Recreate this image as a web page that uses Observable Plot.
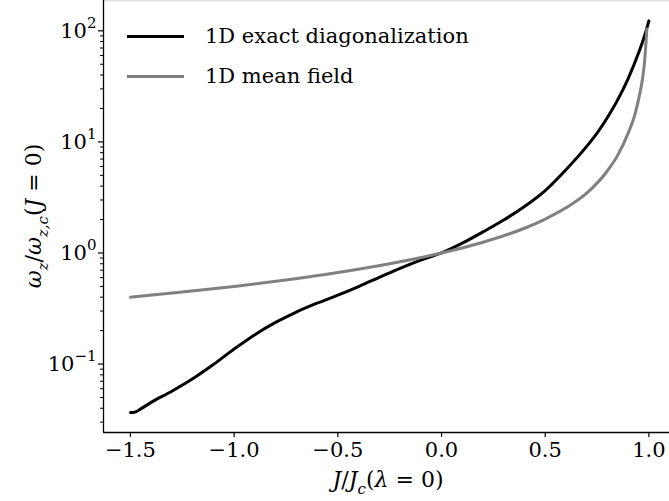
<!DOCTYPE html>
<html><head><meta charset="utf-8">
<script src="https://cdn.jsdelivr.net/npm/d3@7"></script>
<script src="https://cdn.jsdelivr.net/npm/@observablehq/plot@0.6"></script>
<style>
body{margin:0;background:#fff;}
#wrap{position:relative;width:669px;height:501px;font-family:"DejaVu Serif",serif;overflow:hidden;}
#wrap svg{position:absolute;left:0;top:0;}
#legend{position:absolute;left:127px;top:16px;}
.row{display:flex;align-items:center;height:40px;font-size:21px;color:#000;white-space:nowrap;}
.sw{width:57px;height:0;border-top:3px solid;margin-right:21px;}
</style></head><body><div id="wrap"><div id="legend"></div></div>
<script>
// Data
const seriesNames = ["1D exact diagonalization", "1D mean field"];
const seriesColors = ["#000000", "#808080"];

const exactJ = [-1.5, -1.48, -1.45, -1.4, -1.3, -1.2, -1.1, -1.0, -0.9, -0.8, -0.7, -0.6, -0.5, -0.4, -0.3, -0.2, -0.1, 0.0, 0.1, 0.2, 0.3, 0.4, 0.5, 0.6, 0.7, 0.75, 0.8, 0.85, 0.9, 0.95, 0.98, 1.0];
const exactW = [0.0366, 0.0368, 0.0395, 0.0452, 0.0569, 0.0736, 0.0989, 0.1365, 0.184, 0.237, 0.294, 0.353, 0.417, 0.499, 0.603, 0.728, 0.863, 1.0, 1.225, 1.55, 1.98, 2.62, 3.65, 5.62, 9.12, 12.0, 16.6, 24.0, 37.2, 63.1, 91.2, 123];

const mfJ = [-1.5, -1.25, -1.0, -0.75, -0.5, -0.25, 0.0, 0.2, 0.4, 0.5, 0.6, 0.7, 0.8, 0.85, 0.9, 0.93, 0.95, 0.97, 0.98, 0.99];
const mfW = [0.40, 0.445, 0.50, 0.572, 0.667, 0.80, 1.0, 1.25, 1.67, 2.02, 2.55, 3.45, 5.5, 7.6, 12, 17, 24, 38, 55, 104];

const xTicks = [-1.5, -1.0, -0.5, 0.0, 0.5, 1.0];
const yTicks = [0.1, 1, 10, 100];
const yMinor = [0.03, 0.04, 0.05, 0.06, 0.07, 0.08, 0.09, 0.2, 0.3, 0.4, 0.5, 0.6, 0.7, 0.8, 0.9, 2, 3, 4, 5, 6, 7, 8, 9, 20, 30, 40, 50, 60, 70, 80, 90];

const exact = exactJ.map((j, i) => ({J: j, w: exactW[i]}));
const mf = mfJ.map((j, i) => ({J: j, w: mfW[i]}));

const xDomain = [-1.6297, 1.0993];
const yDomain = [0.0242, 187.5];
const FS = 21;

const chart = Plot.plot({
  width: 669, height: 501,
  marginLeft: 103, marginRight: 0, marginTop: 0, marginBottom: 69,
  style: {fontFamily: '"DejaVu Serif", serif', fontSize: FS + "px", background: "transparent", color: "#000"},
  x: {domain: xDomain},
  y: {type: "log", domain: yDomain},
  marks: [
    Plot.ruleY([yDomain[1]], {stroke: "#dcdcdc", strokeWidth: 1.5}),
    Plot.axisY(yMinor, {tickSize: 3, tickFormat: () => "", label: null, strokeWidth: 1}),
    Plot.axisY(yTicks, {tickSize: 5, tickPadding: 2, tickFormat: d => String(Math.round(Math.log10(d))), label: null, fontSize: FS, strokeWidth: 1.2}),
    Plot.axisX(xTicks, {tickSize: 5, tickPadding: 5, tickFormat: d => d.toFixed(1).replace("-", "\u2212"), label: null, fontSize: FS, strokeWidth: 1.2}),
    Plot.ruleX([xDomain[0]], {stroke: "#000", strokeWidth: 1.3}),
    Plot.ruleY([yDomain[0]], {stroke: "#000", strokeWidth: 1.3}),
    Plot.line(exact, {x: "J", y: "w", stroke: seriesColors[0], strokeWidth: 3, curve: "monotone-x"}),
    Plot.line(mf, {x: "J", y: "w", stroke: seriesColors[1], strokeWidth: 3, curve: "monotone-x"})
  ]
});
document.getElementById("wrap").prepend(chart);

function mathText(sel, parts, size) {
  let shift = 0;
  parts.forEach(p => {
    const ts = sel.append("tspan").text(p.t);
    const target = p.sub ? 0.3 * size : p.sup ? -0.45 * size : 0;
    const dy = target - shift;
    if (dy !== 0) ts.attr("dy", dy);
    shift = target;
    if (p.sub || p.sup) ts.attr("font-size", Math.round(size * 0.7));
    if (p.i) ts.attr("font-style", "italic");
  });
}

// y tick labels as 10^n
const svg = d3.select(chart);
svg.selectAll('g[aria-label="y-axis tick label"] text').each(function () {
  const s = d3.select(this);
  const e = s.text();
  if (!e) return;
  s.text("");
  mathText(s, [{t: "10"}, {t: e.replace("-", "\u2212"), sup: true}], FS);
});

// axis labels
const xl = svg.append("text").attr("x", 388).attr("y", 487).attr("text-anchor", "middle")
  .attr("font-size", FS + 1).attr("fill", "#000");
mathText(xl, [{t: "J", i: true}, {t: "/"}, {t: "J", i: true}, {t: "c", i: true, sub: true}, {t: "("}, {t: "λ", i: true}, {t: " = 0)"}], FS + 1);

const yl = svg.append("text").attr("transform", "translate(41,216) rotate(-90)").attr("text-anchor", "middle")
  .attr("font-size", FS + 1).attr("fill", "#000");
mathText(yl, [{t: "ω", i: true}, {t: "z", i: true, sub: true}, {t: "/"}, {t: "ω", i: true}, {t: "z,c", i: true, sub: true}, {t: "("}, {t: "J", i: true}, {t: " = 0)"}], FS + 1);

// legend
const lg = d3.select("#legend");
seriesNames.forEach((n, i) => {
  const r = lg.append("div").attr("class", "row");
  r.append("div").attr("class", "sw").style("border-top-color", seriesColors[i]);
  r.append("span").text(n);
});
</script></body></html>
